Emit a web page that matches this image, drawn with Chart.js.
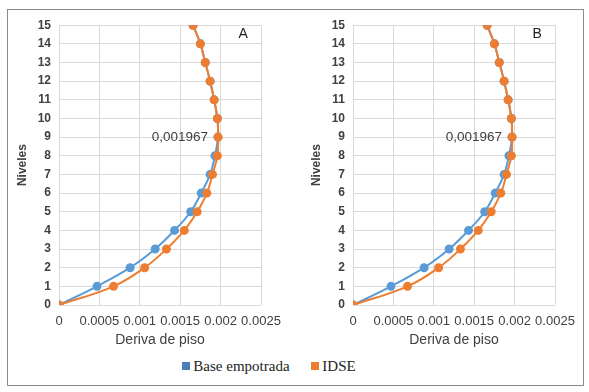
<!DOCTYPE html>
<html>
<head>
<meta charset="utf-8">
<script src="https://cdn.jsdelivr.net/npm/chart.js@4"></script>
<style>
  body { margin: 0; background: #fff; width: 589px; height: 392px; position: relative; overflow: hidden; }
  #frame { position: absolute; left: 7px; top: 9px; width: 575px; height: 375px; border: 1px solid #8c8c8c; }
  .panel { position: absolute; top: 10px; width: 285px; height: 345px; }
  #legend { position: absolute; left: 0; width: 538px; top: 357px; line-height: 18px; text-align: center;
            font-family: "Liberation Serif", serif; font-size: 15px; color: #222; }
  #legend span.sw { display: inline-block; width: 8px; height: 8px; margin-right: 3px; vertical-align: 1px; }
  #legend .item { margin: 0 9px; }
</style>
</head>
<body>
<div id="frame"></div>
<div class="panel" style="left:8px"><canvas id="chartA"></canvas></div>
<div class="panel" style="left:302px"><canvas id="chartB"></canvas></div>
<div id="legend">
  <span class="item"><span class="sw" style="background:#4a7ebb"></span>Base empotrada</span>
  <span class="item"><span class="sw" style="background:#ed7d31"></span>IDSE</span>
</div>
<script>
// niveles (eje vertical)
var levels = [0, 1, 2, 3, 4, 5, 6, 7, 8, 9, 10, 11, 12, 13, 14, 15];
var xTicks = ['0', '0.0005', '0.001', '0.0015', '0.002', '0.0025'];

// deriva de piso - panel A
var baseA = [0, 0.00047, 0.00088, 0.00119, 0.00143, 0.00163, 0.00176, 0.00187, 0.00193, 0.001967,
             0.00196, 0.00192, 0.00187, 0.00181, 0.00175, 0.00166];
var idseA = [0, 0.000675, 0.00106, 0.00133, 0.00155, 0.00171, 0.00183, 0.0019, 0.00196, 0.00197,
             0.00196, 0.00192, 0.00187, 0.00181, 0.00175, 0.00166];
// deriva de piso - panel B
var baseB = [0, 0.00047, 0.00088, 0.00119, 0.00143, 0.00163, 0.00176, 0.00187, 0.00193, 0.001967,
             0.00196, 0.00192, 0.00187, 0.00181, 0.00175, 0.00166];
var idseB = [0, 0.000675, 0.00106, 0.00133, 0.00155, 0.00171, 0.00183, 0.0019, 0.00196, 0.00197,
             0.00196, 0.00192, 0.00187, 0.00181, 0.00175, 0.00166];

var peakLabel = '0,001967';
var peakIndex = 9;

var FONT = '"Liberation Sans", Arial, sans-serif';

function pts(xs) {
  return xs.map(function (v, i) { return { x: v, y: levels[i] }; });
}

function makeChart(id, base, idse, letter) {
  var tag = {
    id: 'tag' + id,
    afterDatasetsDraw: function (chart) {
      var ctx = chart.ctx, sx = chart.scales.x, sy = chart.scales.y;
      ctx.save();
      ctx.fillStyle = '#404040';
      ctx.font = '13.5px ' + FONT;
      ctx.textAlign = 'right';
      ctx.textBaseline = 'middle';
      ctx.fillText(peakLabel, sx.getPixelForValue(base[peakIndex]) - 10, sy.getPixelForValue(levels[peakIndex]));
      ctx.textAlign = 'center';
      ctx.font = '14px ' + FONT;
      ctx.fillStyle = '#222';
      ctx.fillText(letter, sx.getPixelForValue(0.00228), sy.getPixelForValue(14.5));
      ctx.restore();
    }
  };
  return new Chart(document.getElementById(id), {
    type: 'scatter',
    data: {
      datasets: [
        {
          label: 'Base empotrada',
          data: pts(base),
          showLine: true,
          borderColor: '#5b9bd5',
          backgroundColor: '#5b9bd5',
          borderWidth: 2,
          pointRadius: 3.5,
          tension: 0.4,
          order: 2
        },
        {
          label: 'IDSE',
          data: pts(idse),
          showLine: true,
          borderColor: '#ed7d31',
          backgroundColor: '#ed7d31',
          borderWidth: 2,
          pointRadius: 3.5,
          tension: 0.4,
          order: 1
        }
      ]
    },
    options: {
      animation: false,
      responsive: true,
      maintainAspectRatio: false,
      layout: { padding: { top: 9, right: 32, left: 0, bottom: 0 } },
      plugins: {
        legend: { display: false },
        tooltip: { enabled: false }
      },
      scales: {
        x: {
          type: 'linear',
          min: 0,
          max: 0.0025,
          afterBuildTicks: function (s) {
            s.ticks = xTicks.map(function (t) { return { value: parseFloat(t) }; });
          },
          afterFit: function (s) { s.height = 50; },
          ticks: {
            color: '#404040',
            font: { family: FONT, size: 13 },
            maxRotation: 0,
            autoSkip: false,
            padding: 9,
            callback: function (v, i) { return xTicks[i]; }
          },
          grid: { color: '#d9d9d9', drawTicks: false },
          border: { display: false },
          title: {
            display: true,
            text: 'Deriva de piso',
            color: '#404040',
            font: { family: FONT, size: 14 },
            padding: { top: 2, bottom: 6 }
          }
        },
        y: {
          type: 'linear',
          min: 0,
          max: 15,
          afterFit: function (s) { s.width = 51; },
          ticks: {
            stepSize: 1,
            color: '#404040',
            font: { family: FONT, size: 12, weight: 'bold' },
            padding: 8
          },
          grid: { color: '#d9d9d9', drawTicks: false },
          border: { display: false },
          title: {
            display: true,
            text: 'Niveles',
            color: '#404040',
            font: { family: FONT, size: 12, weight: 'bold' },
            padding: { top: 7, bottom: 4 }
          }
        }
      }
    },
    plugins: [tag]
  });
}

var chartA = makeChart('chartA', baseA, idseA, 'A');
var chartB = makeChart('chartB', baseB, idseB, 'B');
</script>
</body>
</html>
